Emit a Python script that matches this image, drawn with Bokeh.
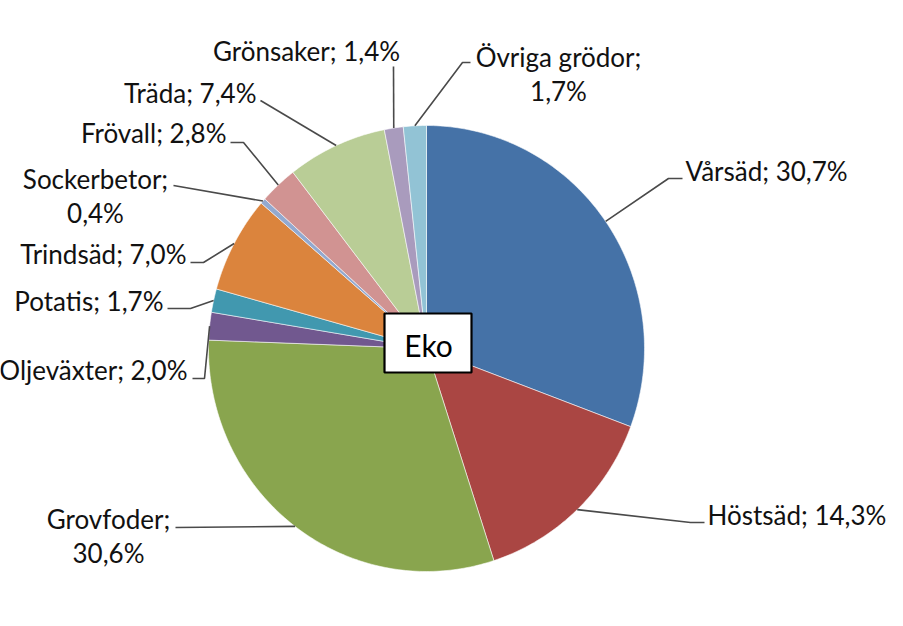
import math
from bokeh.plotting import figure
from bokeh.models import Range1d
from bokeh.embed import file_html
from bokeh.resources import INLINE
from bokeh.core.properties import value

# ---- data ----
categories = ["Vårsäd", "Höstsäd", "Grovfoder", "Oljeväxter", "Potatis", "Trindsäd",
              "Sockerbetor", "Frövall", "Träda", "Grönsaker", "Övriga grödor"]
shares = [30.7, 14.3, 30.6, 2.0, 1.7, 7.0, 0.4, 2.8, 7.4, 1.4, 1.7]
colors = ["#4572A7", "#AA4643", "#89A54E", "#71588F", "#4198AF", "#DB843D",
          "#93A9CF", "#D19392", "#B9CD96", "#A99BBD", "#92C3D5"]
center_title = "Eko"

# ---- layout (page pixel coordinates) ----
CX, CY, RX, RY = 426, 348, 218, 223
FONT = "Lato"
FS = "26px"
label_layout = {
    "Vårsäd":        dict(x=685, y=170, align="left",   two=False, lead=[(682, 178), (668, 178)]),
    "Höstsäd":       dict(x=707, y=514, align="left",   two=False, lead=[(704, 522), (690, 522)]),
    "Grovfoder":     dict(x=108, y=518, align="center", two=True,  lead=[(175, 527)]),
    "Oljeväxter":    dict(x=187, y=369, align="right",  two=False, lead=[(192, 378), (204, 378)]),
    "Potatis":       dict(x=163, y=300, align="right",  two=False, lead=[(167, 308), (190, 308)]),
    "Trindsäd":      dict(x=186, y=253, align="right",  two=False, lead=[(190, 262), (203, 262)]),
    "Sockerbetor":   dict(x=95,  y=178, align="center", two=True,  lead=[(173, 185)]),
    "Frövall":       dict(x=226, y=132, align="right",  two=False, lead=[(230, 142), (243, 142)]),
    "Träda":         dict(x=256, y=92,  align="right",  two=False, lead=[(260, 100)]),
    "Grönsaker":     dict(x=306, y=50,  align="center", two=False, lead=[(393, 66)]),
    "Övriga grödor": dict(x=558, y=56,  align="center", two=True,  lead=[(470, 62), (462, 62)]),
}
LINE_GAP = 34

p = figure(width=887, height=610, output_backend="svg", toolbar_location=None,
           x_range=Range1d(0, 887), y_range=Range1d(610, 0),
           min_border=0, outline_line_color=None)
p.axis.visible = False
p.grid.visible = False
p.background_fill_color = "white"
p.border_fill_color = "white"

total = sum(shares)
xs, ys, mids = [], [], []
cum = 0.0
for s in shares:
    a0 = cum / total * 2 * math.pi
    a1 = (cum + s) / total * 2 * math.pi
    n = max(4, int(s * 4))
    px, py = [CX], [CY]
    for i in range(n + 1):
        t = a0 + (a1 - a0) * i / n
        px.append(CX + RX * math.sin(t))
        py.append(CY - RY * math.cos(t))
    xs.append(px)
    ys.append(py)
    mids.append((a0 + a1) / 2)
    cum += s

p.patches(xs, ys, fill_color=colors, line_color="white", line_width=0.8, line_alpha=0.7)

for cat, s, m in zip(categories, shares, mids):
    L = label_layout[cat]
    ex = CX + RX * math.sin(m)
    ey = CY - RY * math.cos(m)
    pts = L["lead"] + [(ex, ey)]
    p.line([q[0] for q in pts], [q[1] for q in pts], line_color="#4a4a4a", line_width=1.6)
    pct = f"{s:.1f}%".replace(".", ",")
    lines = [f"{cat};", pct] if L["two"] else [f"{cat}; {pct}"]
    for i, t in enumerate(lines):
        p.text(x=[L["x"]], y=[L["y"] + i * LINE_GAP], text=[t], text_align=L["align"],
               text_baseline="middle", text_font=value(FONT), text_font_size=FS,
               text_color="#111111")

p.quad(left=[384], right=[471], top=[313], bottom=[372], fill_color="white",
       line_color="black", line_width=2.2)
p.text(x=[428], y=[344], text=[center_title], text_align="center", text_baseline="middle",
       text_font=value(FONT), text_font_size="30px", text_color="black")

open("out.html", "w").write(file_html(p, INLINE))
